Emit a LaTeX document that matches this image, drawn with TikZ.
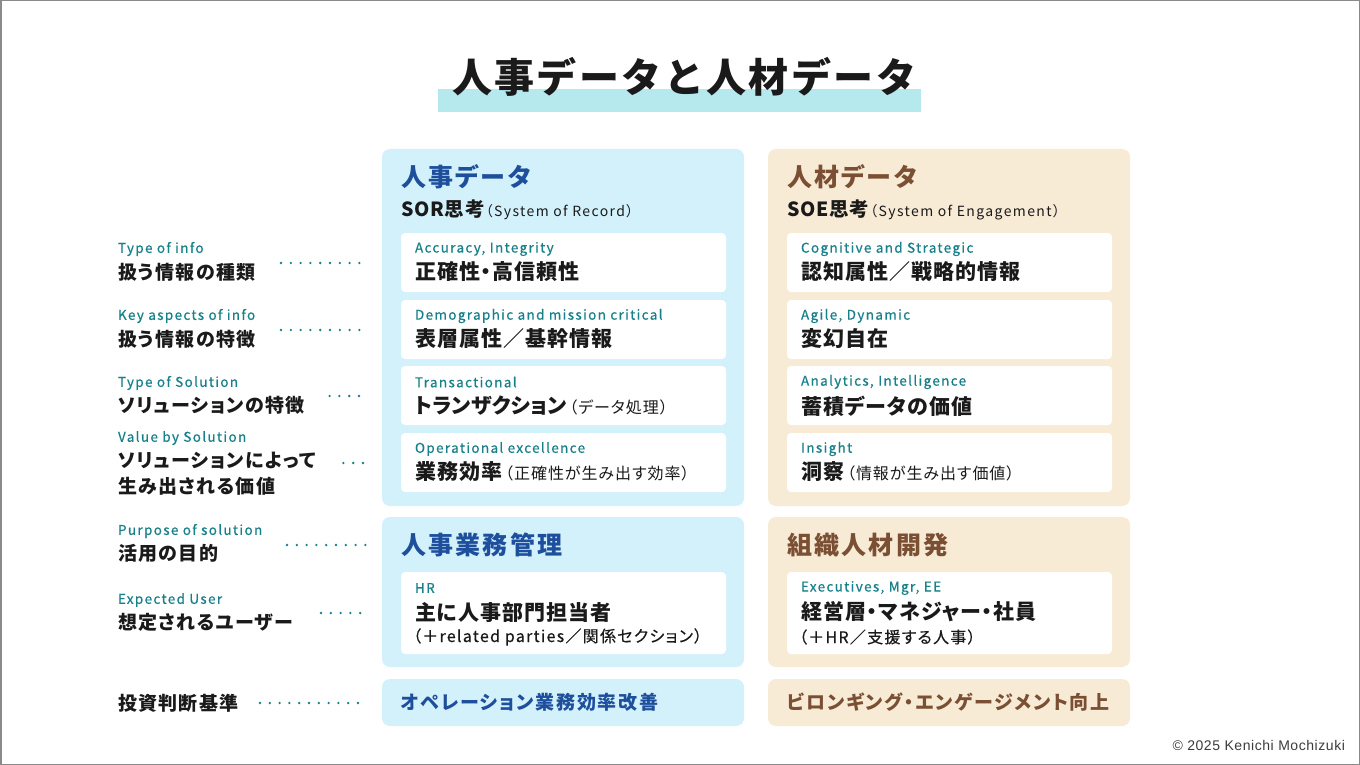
\documentclass[tikz,border=0pt]{standalone}
\usepackage{fontspec}
\setmainfont{Noto Sans CJK JP}[RawFeature=+palt]
\newfontfamily\titlefont{Noto Sans CJK JP}[LetterSpace=6]
\newfontfamily\copyfont{Liberation Sans}[LetterSpace=4]
\definecolor{bluep}{HTML}{D3F1FB}
\definecolor{beigep}{HTML}{F8EBD6}
\definecolor{titlebar}{HTML}{B5E9EE}
\definecolor{blueT}{HTML}{1E4F9C}
\definecolor{brownT}{HTML}{7A4F33}
\definecolor{tealT}{HTML}{17808A}
\definecolor{ink}{HTML}{1A1A1A}
\definecolor{frameC}{HTML}{8A8A8A}
\newcommand\lsp[1]{\addfontfeatures{LetterSpace=#1}}
\newcommand\sysfont{\fontsize{14}{16}\selectfont\mdseries\lsp{10}}
\newcommand\parfont{\fontsize{16}{19}\selectfont\mdseries\lsp{6}}
\begin{document}
\begin{tikzpicture}[x=1pt,y=-1pt,
  every node/.style={inner sep=0pt,outer sep=0pt},
  panelB/.style={fill=bluep,rounded corners=8pt,anchor=north west,minimum width=362pt},
  panelR/.style={fill=beigep,rounded corners=8pt,anchor=north west,minimum width=362pt},
  wbox/.style={fill=white,rounded corners=4pt,anchor=north west,minimum width=325pt},
  en/.style={anchor=west,text=tealT,font=\fontsize{13.5}{16}\selectfont\lsp{10}\addfontfeatures{FakeBold=0.5}},
  jp/.style={anchor=west,text=ink,font=\fontsize{21}{25}\selectfont\bfseries\lsp{5}},
  lbl/.style={anchor=west,text=ink,font=\fontsize{19}{23}\selectfont\bfseries\lsp{7}},
  sub/.style={anchor=west,text=ink,font=\fontsize{16}{19}\selectfont\lsp{8}\addfontfeatures{FakeBold=0.4}},
  headB/.style={anchor=west,text=blueT,font=\fontsize{25}{30}\selectfont\bfseries\lsp{9}},
  headR/.style={anchor=west,text=brownT,font=\fontsize{25}{30}\selectfont\bfseries\lsp{9}},
  sys/.style={anchor=west,text=ink,font=\fontsize{19.5}{23}\selectfont\bfseries\lsp{4}},
  foot/.style={anchor=west,font=\fontsize{19}{23}\selectfont\bfseries\lsp{9}},
  lead/.style={draw=tealT,line width=2.6pt,line cap=round,dash pattern=on 0pt off 9.8pt}
]
\useasboundingbox (0,0) rectangle (1360,765);
\fill[white] (0,0) rectangle (1360,765);
\draw[frameC,line width=1.5pt] (0.75,0.75) rectangle (1359.25,764.25);

% title
\node[fill=titlebar,anchor=north west,minimum width=483pt,minimum height=23pt] (tbar) at (438,89) {};
\node[text=ink,font=\titlefont\fontsize{40}{46}\selectfont\bfseries] (title) at (684,77) {人事データと人材データ};

% panels
\node[panelB,minimum height=357pt] (pB1) at (382,149) {};
\node[panelR,minimum height=357pt] (pR1) at (768,149) {};
\node[panelB,minimum height=150pt] (pB2) at (382,517) {};
\node[panelR,minimum height=150pt] (pR2) at (768,517) {};
\node[panelB,minimum height=47pt] (pB3) at (382,679) {};
\node[panelR,minimum height=47pt] (pR3) at (768,679) {};

% headings
\node[headB] (hB) at (401,177) {人事データ};
\node[headR] (hR) at (787,177) {人材データ};
\node[sys] (sB) at (401,210) {SOR思考\hspace{1pt}{\sysfont（System of Record）}};
\node[sys] (sR) at (787,210) {SOE思考\hspace{1pt}{\sysfont（System of Engagement）}};

% white boxes left
\node[wbox,minimum height=59pt] (bB1) at (401,233) {};
\node[wbox,minimum height=59pt] (bB2) at (401,300) {};
\node[wbox,minimum height=59pt] (bB3) at (401,366) {};
\node[wbox,minimum height=59pt] (bB4) at (401,433) {};
% white boxes right
\node[wbox,minimum height=59pt] (bR1) at (787,233) {};
\node[wbox,minimum height=59pt] (bR2) at (787,300) {};
\node[wbox,minimum height=59pt] (bR3) at (787,366) {};
\node[wbox,minimum height=59pt] (bR4) at (787,433) {};

\node[en] (eB1) at (415,249) {Accuracy, Integrity};
\node[jp] (jB1) at (415,272) {正確性・高信頼性};
\node[en] (eB2) at (415,316) {Demographic and mission critical};
\node[jp] (jB2) at (415,339) {表層属性／基幹情報};
\node[en] (eB3) at (415,382) {Transactional};
\node[jp] (jB3) at (415,406) {{\lsp{0}トランザクション}\hspace{3pt}{\parfont（データ処理）}};
\node[en] (eB4) at (415,449) {Operational excellence};
\node[jp] (jB4) at (415,472) {業務効率\hspace{3pt}{\parfont（正確性が生み出す効率）}};

\node[en] (eR1) at (801,249) {Cognitive and Strategic};
\node[jp] (jR1) at (801,272) {認知属性／戦略的情報};
\node[en] (eR2) at (801,316) {Agile, Dynamic};
\node[jp] (jR2) at (801,339) {変幻自在};
\node[en] (eR3) at (801,382) {Analytics, Intelligence};
\node[jp] (jR3) at (801,406) {蓄積データの価値};
\node[en] (eR4) at (801,449) {Insight};
\node[jp] (jR4) at (801,472) {洞察\hspace{3pt}{\parfont（情報が生み出す価値）}};

% second panels
\node[headB] (hB2) at (401,545) {人事業務管理};
\node[headR] (hR2) at (787,545) {組織人材開発};
\node[wbox,minimum height=82pt] (bB5) at (401,572) {};
\node[wbox,minimum height=82pt] (bR5) at (787,572) {};
\node[en] (eB5) at (415,588) {HR};
\node[jp] (jB5) at (415,612) {主に人事部門担当者};
\node[sub] (sB5) at (413,637) {（＋related parties／関係セクション）};
\node[en] (eR5) at (801,588) {Executives, Mgr, EE};
\node[jp] (jR5) at (801,612) {経営層・マネジャー・社員};
\node[sub] (sR5) at (799,637) {（＋HR／支援する人事）};

% third panels
\node[foot,text=blueT] (tB3) at (401,702) {オペレーション業務効率改善};
\node[foot,text=brownT] (tR3) at (787,702) {ビロンギング・エンゲージメント向上};

% left labels
\node[en] (lE1) at (118,249) {Type of info};
\node[lbl] (lJ1) at (118,272) {扱う情報の種類};
\node[en] (lE2) at (118,316) {Key aspects of info};
\node[lbl] (lJ2) at (118,339) {扱う情報の特徴};
\node[en] (lE3) at (118,383) {Type of Solution};
\node[lbl] (lJ3) at (118,405) {ソリューションの特徴};
\node[en] (lE4) at (118,438) {Value by Solution};
\node[lbl] (lJ4) at (118,461) {ソリューションによって};
\node[lbl] (lJ4b) at (118,486) {生み出される価値};
\node[en] (lE5) at (118,531) {Purpose of solution};
\node[lbl] (lJ5) at (118,553) {活用の目的};
\node[en] (lE6) at (118,600) {Expected User};
\node[lbl] (lJ6) at (118,622) {想定されるユーザー};
\node[lbl] (lJ7) at (118,703) {投資判断基準};

% leader dots
\coordinate (d1a) at (281,263);   \coordinate (d1b) at (360,263);
\coordinate (d2a) at (281,330);   \coordinate (d2b) at (360,330);
\coordinate (d3a) at (329.6,396); \coordinate (d3b) at (361,396);
\coordinate (d4a) at (343.4,463); \coordinate (d4b) at (365,463);
\coordinate (d5a) at (287,545);   \coordinate (d5b) at (366,545);
\coordinate (d6a) at (321,613);   \coordinate (d6b) at (362,613);
\coordinate (d7a) at (260,703);   \coordinate (d7b) at (360,703);
\foreach \k in {1,...,7} {\draw[lead] (d\k a) -- (d\k b);}

% copyright
\node[anchor=east,text=ink!85,font=\copyfont\fontsize{14}{16}\selectfont] (copy) at (1345,745) {© 2025 Kenichi Mochizuki};
\end{tikzpicture}
\end{document}
